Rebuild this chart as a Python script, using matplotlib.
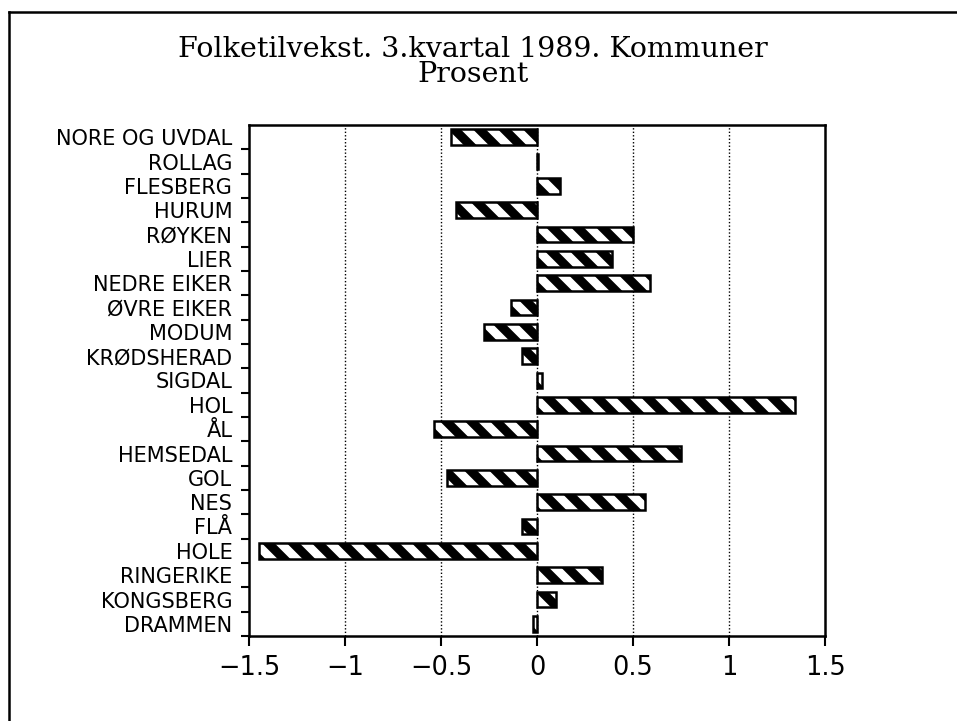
import numpy as np
import matplotlib.pyplot as plt
from matplotlib.lines import Line2D

# drawn at 150 dpi so that the hatch stripes get the wider spacing of the original
DPI = 150
S = 100 / DPI   # sizes below are given as if at 100 dpi

plt.rcParams['hatch.linewidth'] = 6.5 * S

kommuner = ['NORE OG UVDAL', 'ROLLAG', 'FLESBERG', 'HURUM', 'RØYKEN', 'LIER',
            'NEDRE EIKER', 'ØVRE EIKER', 'MODUM', 'KRØDSHERAD', 'SIGDAL', 'HOL',
            'ÅL', 'HEMSEDAL', 'GOL', 'NES', 'FLÅ', 'HOLE', 'RINGERIKE',
            'KONGSBERG', 'DRAMMEN']
vekst = [-0.45, 0.005, 0.12, -0.42, 0.50, 0.39, 0.59, -0.135, -0.275, -0.08,
         0.025, 1.345, -0.535, 0.75, -0.47, 0.565, -0.08, -1.45, 0.34, 0.10,
         -0.02]
xticks = [-1.5, -1, -0.5, 0, 0.5, 1, 1.5]
xlabels = ['\u22121.5', '\u22121', '\u22120.5', '0', '0.5', '1', '1.5']

fig = plt.figure(figsize=(957 / DPI, 721 / DPI), dpi=DPI)
ax = fig.add_axes([249 / 957, 1 - 636 / 721, 576 / 957, 511 / 721])

n = len(kommuner)
y = np.arange(n)[::-1]
ax.barh(y, vekst, height=0.65, color='white', edgecolor='black',
        linewidth=1.8 * S, hatch='\\\\', zorder=3)

ax.set_xlim(-1.5, 1.5)
ax.set_ylim(-0.5, n - 0.5)

ax.set_xticks(xticks)
ax.set_xticklabels(xlabels, fontsize=18.5 * S, family='DejaVu Sans')
ax.tick_params(axis='x', direction='out', length=7 * S, width=1.5 * S, pad=7 * S)

ax.set_yticks(y)
ax.set_yticklabels(kommuner, fontsize=15 * S, family='DejaVu Sans')
ax.tick_params(axis='y', which='major', length=0, pad=12 * S)
ax.set_yticks(np.arange(n) - 0.5, minor=True)
ax.tick_params(axis='y', which='minor', direction='out', length=6 * S, width=1.5 * S)

for xv in [-1, -0.5, 0, 0.5, 1]:
    ax.axvline(xv, color='black', linestyle=(0, (1, 1.5)), linewidth=1 * S, zorder=1)

for s in ax.spines.values():
    s.set_linewidth(1.8 * S)

fig.text(0.494, 0.914, 'Folketilvekst. 3.kvartal 1989. Kommuner\nProsent',
         ha='center', va='center', multialignment='center', linespacing=0.95,
         fontsize=20.5 * S, family='DejaVu Serif')

# outer frame
fig.add_artist(Line2D([9 / 957, 1], [1 - 12 / 721, 1 - 12 / 721],
                      transform=fig.transFigure, color='black', linewidth=1.8 * S))
fig.add_artist(Line2D([9 / 957, 9 / 957], [0, 1 - 12 / 721],
                      transform=fig.transFigure, color='black', linewidth=1.8 * S))

fig.savefig('out.png', dpi=DPI)
